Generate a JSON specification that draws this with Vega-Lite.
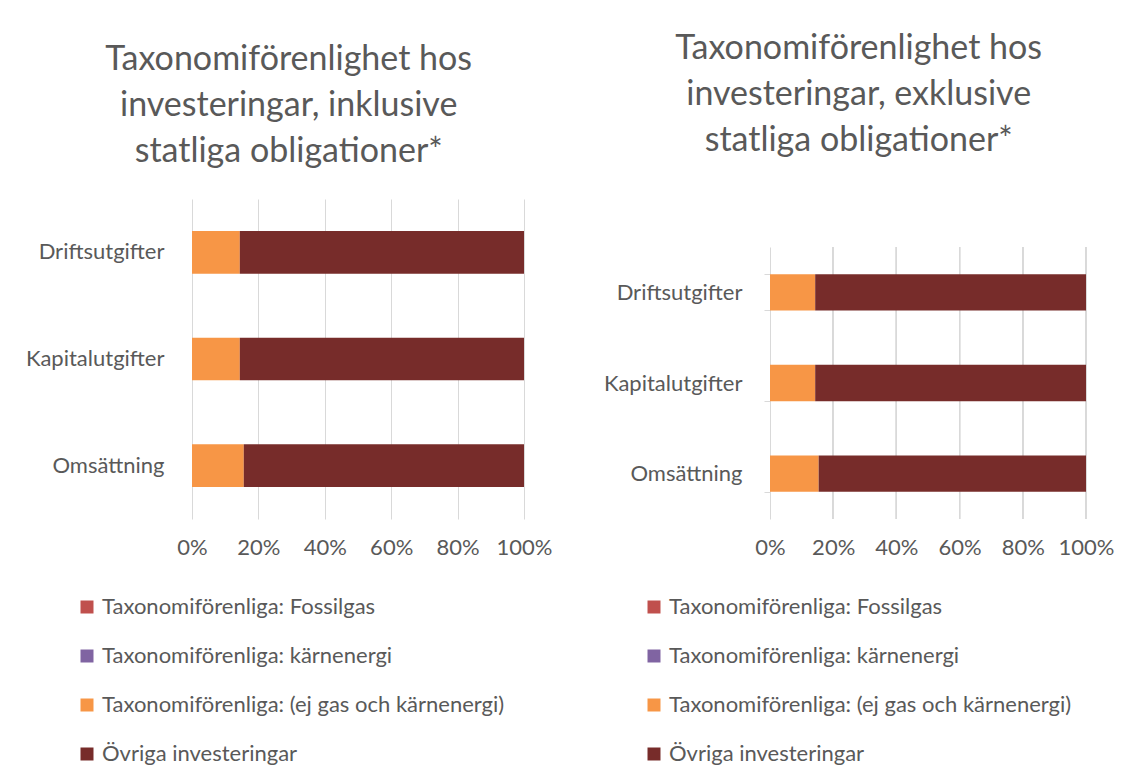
{
  "$schema": "https://vega.github.io/schema/vega-lite/v6.json",
  "background": "white",
  "padding": {"left": 25, "top": 32, "right": 5, "bottom": 5},
  "spacing": 51,
  "config": {
    "font": "Lato",
    "view": {"stroke": null},
    "axis": {"labelColor": "#595959", "labelFont": "Lato", "labelFontSize": 22, "gridColor": "#D9D9D9", "domainColor": "#D9D9D9", "tickColor": "#D9D9D9", "title": null},
    "legend": {"labelFont": "Lato", "labelFontSize": 22, "labelColor": "#595959", "symbolType": "square", "symbolSize": 169, "symbolStrokeWidth": 0, "rowPadding": 27, "labelOffset": 4, "labelLimit": 600, "title": null},
    "title": {"font": "Lato", "fontSize": 34, "fontWeight": "normal", "color": "#595959", "lineHeight": 46, "anchor": "middle", "frame": "bounds"}
  },
  "datasets": {
    "d": [
      {"panel": "inkl", "cat": "Driftsutgifter", "series": "Taxonomiförenliga: Fossilgas", "idx": 1, "value": 0},
      {"panel": "inkl", "cat": "Driftsutgifter", "series": "Taxonomiförenliga: kärnenergi", "idx": 2, "value": 0},
      {"panel": "inkl", "cat": "Driftsutgifter", "series": "Taxonomiförenliga: (ej gas och kärnenergi)", "idx": 3, "value": 0.144},
      {"panel": "inkl", "cat": "Driftsutgifter", "series": "Övriga investeringar", "idx": 4, "value": 0.856},
      {"panel": "inkl", "cat": "Kapitalutgifter", "series": "Taxonomiförenliga: Fossilgas", "idx": 1, "value": 0},
      {"panel": "inkl", "cat": "Kapitalutgifter", "series": "Taxonomiförenliga: kärnenergi", "idx": 2, "value": 0},
      {"panel": "inkl", "cat": "Kapitalutgifter", "series": "Taxonomiförenliga: (ej gas och kärnenergi)", "idx": 3, "value": 0.144},
      {"panel": "inkl", "cat": "Kapitalutgifter", "series": "Övriga investeringar", "idx": 4, "value": 0.856},
      {"panel": "inkl", "cat": "Omsättning", "series": "Taxonomiförenliga: Fossilgas", "idx": 1, "value": 0},
      {"panel": "inkl", "cat": "Omsättning", "series": "Taxonomiförenliga: kärnenergi", "idx": 2, "value": 0},
      {"panel": "inkl", "cat": "Omsättning", "series": "Taxonomiförenliga: (ej gas och kärnenergi)", "idx": 3, "value": 0.156},
      {"panel": "inkl", "cat": "Omsättning", "series": "Övriga investeringar", "idx": 4, "value": 0.844},
      {"panel": "exkl", "cat": "Driftsutgifter", "series": "Taxonomiförenliga: Fossilgas", "idx": 1, "value": 0},
      {"panel": "exkl", "cat": "Driftsutgifter", "series": "Taxonomiförenliga: kärnenergi", "idx": 2, "value": 0},
      {"panel": "exkl", "cat": "Driftsutgifter", "series": "Taxonomiförenliga: (ej gas och kärnenergi)", "idx": 3, "value": 0.143},
      {"panel": "exkl", "cat": "Driftsutgifter", "series": "Övriga investeringar", "idx": 4, "value": 0.857},
      {"panel": "exkl", "cat": "Kapitalutgifter", "series": "Taxonomiförenliga: Fossilgas", "idx": 1, "value": 0},
      {"panel": "exkl", "cat": "Kapitalutgifter", "series": "Taxonomiförenliga: kärnenergi", "idx": 2, "value": 0},
      {"panel": "exkl", "cat": "Kapitalutgifter", "series": "Taxonomiförenliga: (ej gas och kärnenergi)", "idx": 3, "value": 0.143},
      {"panel": "exkl", "cat": "Kapitalutgifter", "series": "Övriga investeringar", "idx": 4, "value": 0.857},
      {"panel": "exkl", "cat": "Omsättning", "series": "Taxonomiförenliga: Fossilgas", "idx": 1, "value": 0},
      {"panel": "exkl", "cat": "Omsättning", "series": "Taxonomiförenliga: kärnenergi", "idx": 2, "value": 0},
      {"panel": "exkl", "cat": "Omsättning", "series": "Taxonomiförenliga: (ej gas och kärnenergi)", "idx": 3, "value": 0.154},
      {"panel": "exkl", "cat": "Omsättning", "series": "Övriga investeringar", "idx": 4, "value": 0.846}
    ]
  },
  "hconcat": [
    {
      "data": {"name": "d"},
      "transform": [{"filter": "datum.panel === 'inkl'"}],
      "title": {"text": ["Taxonomiförenlighet hos", "investeringar, inklusive", "statliga obligationer*"], "offset": 30},
      "width": 332,
      "height": 320,
      "mark": {"type": "bar"},
      "encoding": {
        "y": {"field": "cat", "type": "nominal", "sort": ["Driftsutgifter", "Kapitalutgifter", "Omsättning"], "scale": {"paddingInner": 0.6, "paddingOuter": 0.3}, "axis": {"domain": false, "ticks": false, "labelPadding": 28}},
        "x": {"field": "value", "type": "quantitative", "stack": "zero", "scale": {"domain": [0, 1]}, "axis": {"values": [0, 0.2, 0.4, 0.6, 0.8, 1], "format": ".0%", "domain": false, "ticks": false, "labelPadding": 18, "labelOverlap": false, "labelFlush": false}},
        "color": {"field": "series", "type": "nominal", "sort": ["Taxonomiförenliga: Fossilgas", "Taxonomiförenliga: kärnenergi", "Taxonomiförenliga: (ej gas och kärnenergi)", "Övriga investeringar"], "scale": {"domain": ["Taxonomiförenliga: Fossilgas", "Taxonomiförenliga: kärnenergi", "Taxonomiförenliga: (ej gas och kärnenergi)", "Övriga investeringar"], "range": ["#C0504D", "#8064A2", "#F79646", "#772C2A"]}, "legend": {"orient": "none", "legendX": -116, "legendY": 397, "direction": "vertical"}},
        "order": {"field": "idx", "type": "quantitative"}
      }
    },
    {
      "data": {"name": "d"},
      "transform": [{"filter": "datum.panel === 'exkl'"}],
      "title": {"text": ["Taxonomiförenlighet hos", "investeringar, exklusive", "statliga obligationer*"], "offset": 30},
      "width": 316,
      "height": 320,
      "layer": [
        {"mark": {"type": "rule", "color": "#D9D9D9", "strokeWidth": 1}, "encoding": {"x": {"datum": 0.2, "type": "quantitative"}, "y": {"datum": 0, "type": "quantitative", "scale": {"domain": [0, 1], "range": [48, 320]}, "axis": null}, "y2": {"datum": 1}}},
        {"mark": {"type": "rule", "color": "#D9D9D9", "strokeWidth": 1}, "encoding": {"x": {"datum": 0.4, "type": "quantitative"}, "y": {"datum": 0, "type": "quantitative", "scale": {"domain": [0, 1], "range": [48, 320]}, "axis": null}, "y2": {"datum": 1}}},
        {"mark": {"type": "rule", "color": "#D9D9D9", "strokeWidth": 1}, "encoding": {"x": {"datum": 0.6, "type": "quantitative"}, "y": {"datum": 0, "type": "quantitative", "scale": {"domain": [0, 1], "range": [48, 320]}, "axis": null}, "y2": {"datum": 1}}},
        {"mark": {"type": "rule", "color": "#D9D9D9", "strokeWidth": 1}, "encoding": {"x": {"datum": 0.8, "type": "quantitative"}, "y": {"datum": 0, "type": "quantitative", "scale": {"domain": [0, 1], "range": [48, 320]}, "axis": null}, "y2": {"datum": 1}}},
        {"mark": {"type": "rule", "color": "#D9D9D9", "strokeWidth": 1}, "encoding": {"x": {"datum": 1, "type": "quantitative"}, "y": {"datum": 0, "type": "quantitative", "scale": {"domain": [0, 1], "range": [48, 320]}, "axis": null}, "y2": {"datum": 1}}},
        {
          "mark": {"type": "bar"},
          "encoding": {
            "y": {"field": "cat", "type": "nominal", "sort": ["Driftsutgifter", "Kapitalutgifter", "Omsättning"], "scale": {"range": [48, 320], "paddingInner": 0.6, "paddingOuter": 0.3}, "axis": {"domain": true, "ticks": true, "tickBand": "extent", "tickSize": 6, "labelPadding": 22}},
            "x": {"field": "value", "type": "quantitative", "stack": "zero", "scale": {"domain": [0, 1]}, "axis": {"values": [0, 0.2, 0.4, 0.6, 0.8, 1], "format": ".0%", "domain": false, "ticks": false, "grid": false, "labelPadding": 18, "labelOverlap": false, "labelFlush": false}},
            "color": {"field": "series", "type": "nominal", "sort": ["Taxonomiförenliga: Fossilgas", "Taxonomiförenliga: kärnenergi", "Taxonomiförenliga: (ej gas och kärnenergi)", "Övriga investeringar"], "scale": {"domain": ["Taxonomiförenliga: Fossilgas", "Taxonomiförenliga: kärnenergi", "Taxonomiförenliga: (ej gas och kärnenergi)", "Övriga investeringar"], "range": ["#C0504D", "#8064A2", "#F79646", "#772C2A"]}, "legend": {"orient": "none", "legendX": -127, "legendY": 397, "direction": "vertical"}},
            "order": {"field": "idx", "type": "quantitative"}
          }
        }
      ],
      "resolve": {"scale": {"y": "independent"}, "axis": {"y": "independent"}}
    }
  ],
  "resolve": {"scale": {"color": "independent"}, "legend": {"color": "independent"}}
}
